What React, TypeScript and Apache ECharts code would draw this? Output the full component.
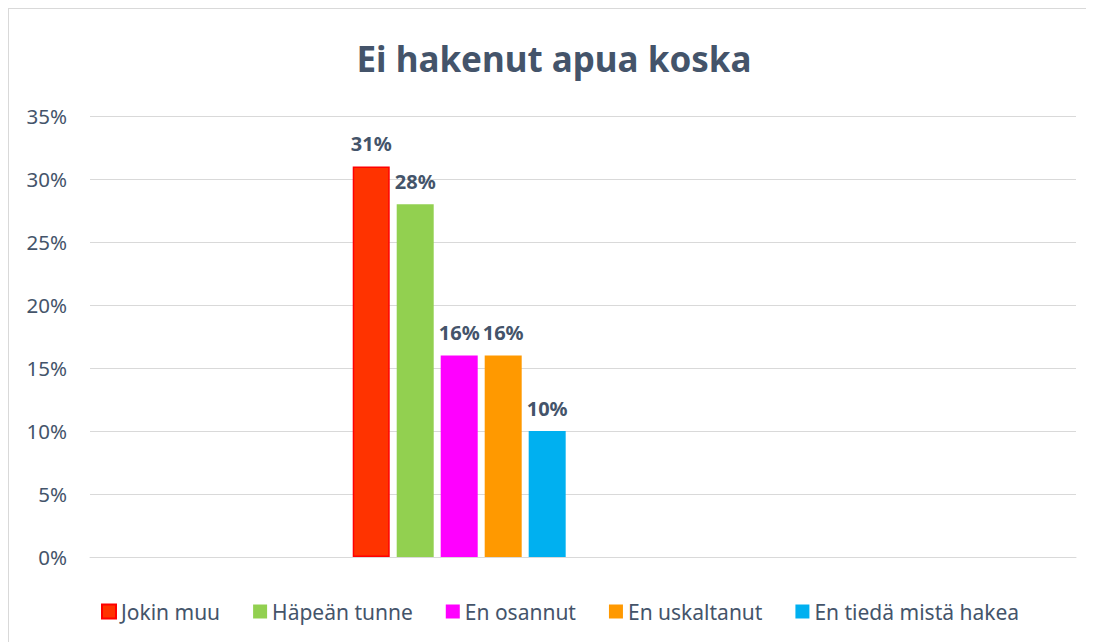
import React, { useEffect, useRef } from "react";
import * as echarts from "echarts";

const categories: string[] = [""];
const seriesNames: string[] = ["Jokin muu", "Häpeän tunne", "En osannut", "En uskaltanut", "En tiedä mistä hakea"];
const seriesValues: number[] = [31, 28, 16, 16, 10];
const seriesColors: string[] = ["#FF3300", "#92D050", "#FF00FF", "#FF9900", "#00B0F0"];
const yTicks = { min: 0, max: 35, interval: 5 };

const FONT = "'Noto Sans', sans-serif";
const TEXT = "#44546A";

export default function App() {
  const ref = useRef<HTMLDivElement>(null);
  useEffect(() => {
    document.documentElement.style.overflow = "hidden";
    const chart = echarts.init(ref.current!, null, { renderer: "svg" });
    const barGap = "18.9%";
    const series: any[] = seriesNames.map((name, i) => ({
      name,
      type: "bar",
      data: [seriesValues[i]],
      barWidth: 37,
      barGap,
      itemStyle: {
        color: seriesColors[i],
        borderColor: i === 0 ? "#FF0000" : seriesColors[i],
        borderWidth: i === 0 ? 1.5 : 0,
      },
      label: {
        show: true,
        position: "top",
        distance: 13,
        formatter: "{c}%",
        fontFamily: FONT,
        fontSize: 20,
        fontWeight: "bold",
        color: TEXT,
      },
    }));
    series.push({
      name: "_pad",
      type: "bar",
      data: [null],
      barWidth: 240.6,
      barGap,
      silent: true,
      itemStyle: { color: "transparent" },
    });
    chart.setOption({
      animation: false,
      textStyle: { fontFamily: FONT },
      title: {
        text: "Ei hakenut apua koska",
        left: "center",
        top: 32,
        padding: 0,
        textStyle: { fontFamily: FONT, fontSize: 35, fontWeight: "bold", color: TEXT },
      },
      grid: { left: 81, right: 23, top: 107, height: 441, containLabel: false },
      legend: {
        data: seriesNames,
        left: 92,
        top: 592,
        padding: 0,
        itemWidth: 14,
        itemHeight: 14,
        itemGap: 33,
        icon: "rect",
        textStyle: { fontFamily: FONT, fontSize: 21, color: TEXT },
      },
      xAxis: {
        type: "category",
        data: categories,
        axisLine: { show: true, lineStyle: { color: "#D9D9D9", width: 1 } },
        axisTick: { show: false },
        axisLabel: { show: false },
      },
      yAxis: {
        type: "value",
        min: yTicks.min,
        max: yTicks.max,
        interval: yTicks.interval,
        axisLine: { show: false },
        axisTick: { show: false },
        splitLine: { lineStyle: { color: "#D9D9D9", width: 1 } },
        axisLabel: {
          formatter: "{value}%",
          fontFamily: FONT,
          fontSize: 20.5,
          color: TEXT,
          margin: 23,
        },
      },
      series,
    });
    return () => chart.dispose();
  }, []);
  return (
    <div style={{ border: "1px solid #D9D9D9", width: 1090, height: 640, background: "#fff" }}>
      <div ref={ref} style={{ width: 1090, height: 640 }} />
    </div>
  );
}
